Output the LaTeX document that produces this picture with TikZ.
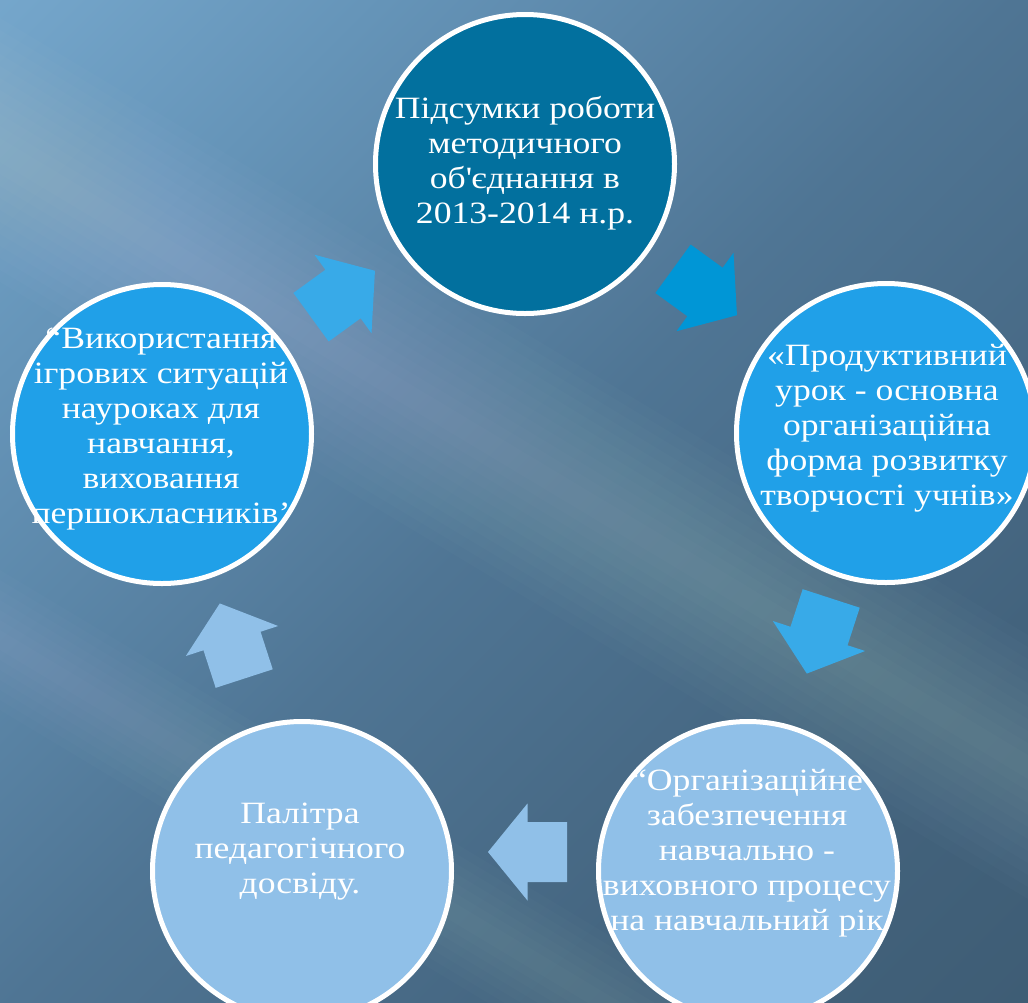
\documentclass[tikz,border=0pt]{standalone}
\usepackage{fontspec}
\setmainfont[FakeStretch=1.15]{Liberation Serif}
\definecolor{bgA}{HTML}{86BAE0}
\definecolor{bgB}{HTML}{6594B8}
\definecolor{bgC}{HTML}{4F7594}
\definecolor{bgD}{HTML}{43637D}
\definecolor{bgE}{HTML}{39566C}
\definecolor{darkc}{HTML}{02709E}
\definecolor{midc}{HTML}{20A0E8}
\definecolor{lightc}{HTML}{90C0E8}
\definecolor{arrA}{HTML}{38AAE8}
\definecolor{arrB}{HTML}{0096D6}
\pgfdeclarehorizontalshading{bgshade}{100bp}{color(0bp)=(bgA); color(28bp)=(bgB); color(50bp)=(bgC); color(72bp)=(bgD); color(100bp)=(bgE)}
\tikzset{
  circ/.style={circle, draw=white, line width=5pt, minimum size=299pt, inner sep=0pt},
  txt/.style={text=white, align=center, font=\fontsize{31}{35}\selectfont, inner sep=0pt, anchor=base},
  blockarrow/.pic={\fill (-39.5,-30) -- (0,-30) -- (0,-48.5) -- (39.5,0) -- (0,48.5) -- (0,30) -- (-39.5,30) -- cycle;}
}
\begin{document}
\begin{tikzpicture}[x=1pt,y=-1pt]
\useasboundingbox (0,0) rectangle (1028,1002);
\shade[shading=bgshade, shading angle=-45] (0,0) rectangle (1028,1002);
\foreach \h in {12,24,...,132}
  \fill[white, opacity=0.014] (0,150-\h) -- (1028,767-\h) -- (1028,767+\h) -- (0,150+\h) -- cycle;
\foreach \h in {10,20,...,70}
  \fill[white, opacity=0.014] (0,640-\h) -- (1028,1257-\h) -- (1028,1257+\h) -- (0,640+\h) -- cycle;

\node[circ, fill=darkc]  (c1) at (525,164) {};
\node[circ, fill=midc]   (c2) at (886,433) {};
\node[circ, fill=lightc] (c3) at (748,871) {};
\node[circ, fill=lightc] (c4) at (302,871) {};
\node[circ, fill=midc]   (c5) at (162,434) {};

\coordinate (a1) at (705,292);
\coordinate (a2) at (819,636);
\coordinate (a3) at (527.5,852);
\coordinate (a4) at (232,641);
\coordinate (a5) at (343,294);
\pic[fill=arrB, rotate=-36]  at (a1) {blockarrow};
\pic[fill=arrA, rotate=-108] at (a2) {blockarrow};
\pic[fill=lightc, rotate=180] at (a3) {blockarrow};
\pic[fill=lightc, rotate=108] at (a4) {blockarrow};
\pic[fill=arrA, rotate=36]   at (a5) {blockarrow};

\node[txt] (t1) at (525,223) {Підсумки роботи\\методичного\\об\textquotesingle єднання в\\2013-2014 н.р.};
\node[txt] (t2) at (887,505) {«Продуктивний\\урок - основна\\організаційна\\форма розвитку\\творчості учнів»};
\node[txt] (t3) at (747,930) {“Організаційне\\забезпечення\\навчально -\\виховного процесу\\на навчальний рік};
\node[txt] (t4) at (300,893) {Палітра\\педагогічного\\досвіду.};
\node[txt] (t5) at (161,523) {“Використання\\ігрових ситуацій\\науроках для\\навчання,\\виховання\\першокласників’};
\end{tikzpicture}
\end{document}
